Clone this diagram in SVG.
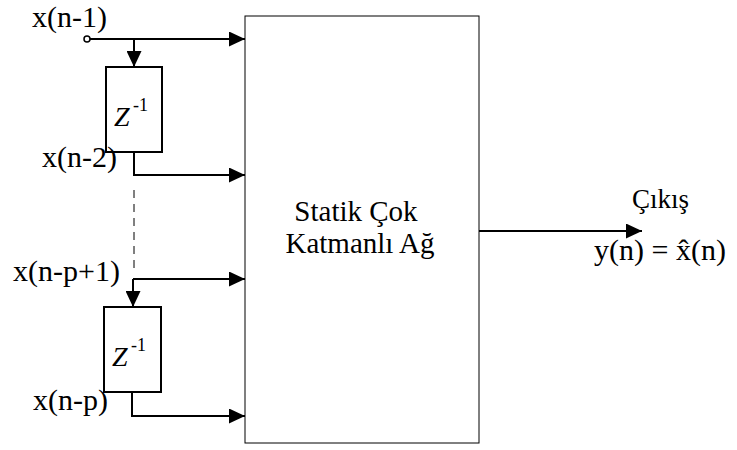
<svg xmlns="http://www.w3.org/2000/svg" width="737" height="450" viewBox="0 0 737 450">
<defs>
<style>
text{font-family:'Liberation Serif','DejaVu Serif','Times New Roman',serif;fill:#000}
.l{stroke:#000;stroke-width:2;fill:none}
.b{stroke:#000;stroke-width:2;fill:#fff}
</style>
<marker id="ah" viewBox="0 0 16 15" refX="16" refY="7.5" markerWidth="16" markerHeight="15" markerUnits="userSpaceOnUse" orient="auto">
<path d="M0,0 L16,7.5 L0,15 Z" fill="#000"/>
</marker>
</defs>
<rect width="737" height="450" fill="#fff"/>
<g id="connectors">
<circle cx="87" cy="39" r="3" fill="#fff" stroke="#000" stroke-width="1.5"/>
<line class="l" x1="90" y1="39" x2="245" y2="39" marker-end="url(#ah)"/>
<line class="l" x1="134" y1="39" x2="134" y2="67" marker-end="url(#ah)"/>
<polyline class="l" points="134,152 134,175 245,175" marker-end="url(#ah)"/>
<line x1="134" y1="190" x2="134" y2="268" stroke="#000" stroke-width="1" stroke-dasharray="8,6"/>
<line class="l" x1="133" y1="279" x2="245" y2="279" marker-end="url(#ah)"/>
<line class="l" x1="133" y1="279" x2="133" y2="307" marker-end="url(#ah)"/>
<polyline class="l" points="132,392 132,416 245,416" marker-end="url(#ah)"/>
<line class="l" x1="479" y1="231" x2="642" y2="231" marker-end="url(#ah)"/>
</g>
<g id="delay1">
<rect class="b" x="106" y="67" width="56" height="85"/>
<text x="114" y="126" font-size="28" font-style="italic" font-family="Liberation Serif, serif">Z</text>
<text x="133" y="111" font-size="18" font-family="Liberation Serif, serif">-1</text>
</g>
<g id="delay2">
<rect class="b" x="104" y="307" width="57" height="85"/>
<text x="112" y="366" font-size="28" font-style="italic" font-family="Liberation Serif, serif">Z</text>
<text x="131" y="351" font-size="18" font-family="Liberation Serif, serif">-1</text>
</g>
<g id="network">
<rect x="245" y="16" width="234" height="427" fill="none" stroke="#000" stroke-width="1"/>
<text x="356" y="221" font-size="29" text-anchor="middle" font-family="Liberation Serif, serif">Statik Çok</text>
<text x="360" y="253" font-size="29" text-anchor="middle" font-family="Liberation Serif, serif">Katmanlı Ağ</text>
</g>
<g id="labels" font-family="Liberation Serif, serif" font-size="30">
<text x="32" y="27">x(n-1)</text>
<text x="42" y="167">x(n-2)</text>
<text x="13" y="281">x(n-p+1)</text>
<text x="33" y="410">x(n-p)</text>
<text x="632" y="208" font-size="27">Çıkış</text>
<text x="594" y="260" font-size="30">y(n) = x̂(n)</text>
</g>
</svg>
